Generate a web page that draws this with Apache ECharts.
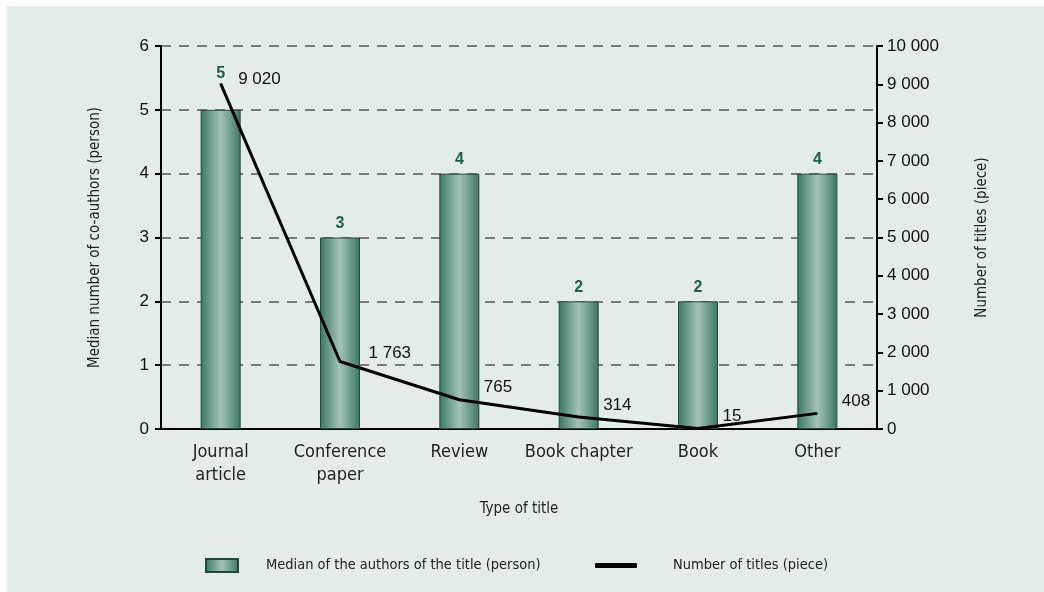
<!DOCTYPE html>
<html>
<head>
<meta charset="utf-8">
<script src="https://cdn.jsdelivr.net/npm/echarts@6/dist/echarts.min.js"></script>
<style>
  html, body { margin: 0; padding: 0; background: #ffffff; }
  #chart { position: absolute; left: 7px; top: 6px; width: 1037px; height: 586px; }
</style>
</head>
<body>
<div id="chart"></div>
<script>
// data
const categories = ['Journal\narticle', 'Conference\npaper', 'Review', 'Book chapter', 'Book', 'Other'];
const medianAuthors = [5, 3, 4, 2, 2, 4];
const titleCounts = [9020, 1763, 765, 314, 15, 408];
const leftTicks = [0, 1, 2, 3, 4, 5, 6];
const rightTicks = [0, 1000, 2000, 3000, 4000, 5000, 6000, 7000, 8000, 9000, 10000];

const barName = 'Median of the authors of the title (person)';
const lineName = 'Number of titles (piece)';

const narrow = 'DejaVu Sans Condensed';
const sans = 'Liberation Sans';

const spaced = v => String(v).replace(/\B(?=(\d{3})+(?!\d))/g, ' ');

const barGradient = new echarts.graphic.LinearGradient(0, 0, 1, 0, [
  { offset: 0, color: '#3b7763' },
  { offset: 0.5, color: '#a3c2b8' },
  { offset: 1, color: '#3b7763' }
]);

const chart = echarts.init(document.getElementById('chart'));
const option = {
  backgroundColor: '#e4ece9',
  animation: false,
  grid: { left: 154, right: 167, top: 40, bottom: 163 },
  legend: [
    {
      data: [{ name: barName, icon: 'rect' }],
      left: 193, top: 547,
      itemWidth: 32, itemHeight: 13,
      textStyle: { fontFamily: narrow, fontSize: 14.5, color: '#222', padding: [0, 0, 0, 23] }
    },
    {
      data: [{ name: lineName, icon: 'roundRect' }],
      left: 583, top: 547,
      itemWidth: 42, itemHeight: 5,
      textStyle: { fontFamily: narrow, fontSize: 14.5, color: '#222', padding: [0, 0, 0, 31] }
    }
  ],
  xAxis: {
    type: 'category',
    data: categories,
    name: 'Type of title',
    nameLocation: 'middle',
    nameGap: 73,
    nameTextStyle: { fontFamily: narrow, fontSize: 15, color: '#222' },
    axisLine: { lineStyle: { color: '#000', width: 2 } },
    axisTick: { length: 6, lineStyle: { color: '#000', width: 2 } },
    axisLabel: { interval: 0, fontFamily: narrow, fontSize: 18, color: '#222', margin: 12, lineHeight: 23 }
  },
  yAxis: [
    {
      type: 'value',
      min: leftTicks[0], max: leftTicks[leftTicks.length - 1], interval: 1,
      name: 'Median number of co-authors (person)',
      nameLocation: 'middle',
      nameGap: 58,
      nameTextStyle: { fontFamily: narrow, fontSize: 15, color: '#222' },
      axisLine: { show: true, lineStyle: { color: '#000', width: 2 } },
      axisTick: { show: true, length: 6, lineStyle: { color: '#000', width: 2 } },
      axisLabel: { fontFamily: sans, fontSize: 17, color: '#111', margin: 12 },
      splitLine: { show: true, lineStyle: { color: '#555', width: 1.5, type: [10, 8] } }
    },
    {
      type: 'value',
      min: rightTicks[0], max: rightTicks[rightTicks.length - 1], interval: 1000,
      name: 'Number of titles (piece)',
      nameLocation: 'middle',
      nameGap: 98,
      nameRotate: 90,
      nameTextStyle: { fontFamily: narrow, fontSize: 15, color: '#222' },
      axisLine: { show: true, lineStyle: { color: '#000', width: 2 } },
      axisTick: { show: true, length: 6, lineStyle: { color: '#000', width: 2 } },
      axisLabel: { fontFamily: sans, fontSize: 17, color: '#111', margin: 10, formatter: spaced },
      splitLine: { show: false }
    }
  ],
  series: [
    {
      name: barName,
      type: 'bar',
      yAxisIndex: 0,
      barWidth: 40,
      itemStyle: { color: barGradient, borderColor: '#25463b', borderWidth: 1 },
      label: {
        show: true, position: 'top', distance: 6,
        fontFamily: sans, fontSize: 16, fontWeight: 'bold', color: '#1e5f4a'
      },
      data: medianAuthors.map((v, i) => i === 0 ? { value: v, label: { offset: [0, -22] } } : v),
      z: 2
    },
    {
      name: lineName,
      type: 'line',
      yAxisIndex: 1,
      symbol: 'circle',
      symbolSize: 1,
      showSymbol: true,
      lineStyle: { color: '#000', width: 3 },
      itemStyle: { color: '#000' },
      label: {
        show: true, position: 'right', distance: 5, offset: [19, -12],
        fontFamily: sans, fontSize: 17, color: '#111',
        formatter: p => spaced(p.value)
      },
      data: titleCounts.map((v, i) => {
        if (i === 0) return { value: v, label: { offset: [12, -4] } };
        if (i === 1) return { value: v, label: { offset: [23, -8] } };
        return v;
      }),
      z: 3
    }
  ]
};
option && chart.setOption(option);
</script>
</body>
</html>
